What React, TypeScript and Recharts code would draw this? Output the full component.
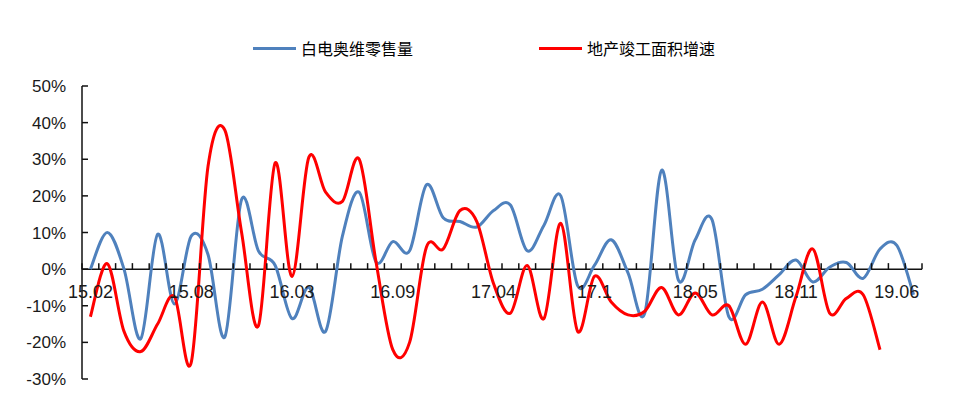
import { LineChart, Line, XAxis, YAxis, ReferenceLine } from "recharts";

// monthly, January merged into February
const categories = [
  "15.02", "15.03", "15.04", "15.05", "15.06", "15.07", "15.08", "15.09", "15.1", "15.11", "15.12",
  "16.02", "16.03", "16.04", "16.05", "16.06", "16.07", "16.08", "16.09", "16.1", "16.11", "16.12",
  "17.02", "17.03", "17.04", "17.05", "17.06", "17.07", "17.08", "17.09", "17.1", "17.11", "17.12",
  "18.02", "18.03", "18.04", "18.05", "18.06", "18.07", "18.08", "18.09", "18.1", "18.11", "18.12",
  "19.02", "19.03", "19.04", "19.05", "19.06", "19.07"
];

// 白电奥维零售量 (%)
const retailVolume = [
  0, 10, 0, -19, 9.5, -9.5, 9, 4, -18.5, 19, 5,
  1, -13.5, -5, -17, 9, 21, 2, 7.5, 5, 23, 14,
  13, 11.5, 16, 17.5, 5, 12, 20, -4.5, 1, 8, -1,
  -12, 27, -3, 8, 13.5, -13, -7, -5.5, -1.5, 2.5, -3.5,
  0.5, 1.8, -2.5, 5.5, 6.5, -7
];

// 地产竣工面积增速 (%)
const completionGrowth = [
  -13, 1.5, -17, -22.5, -15, -7.5, -25.5, 28, 38, 10, -15.5,
  29, -2, 30.5, 21, 18.5, 30, 2, -22, -20, 6, 5.5,
  16, 13, -4, -12, 1, -13.5, 12.5, -17, -2, -9, -12.5,
  -11.5, -5, -12.5, -6.5, -12.5, -10, -20.5, -9, -20.5, -7.5, 5.5,
  -12, -8, -7, -22, null, null
];

const yTicks = [-30, -20, -10, 0, 10, 20, 30, 40, 50];
const labelEvery = 6;

const CHART_W = 952;
const CHART_H = 395;
const MARGIN = { top: 78, right: 38, bottom: 23, left: 14 };
const Y_AXIS_W = 60;
const X_AXIS_H = 1;
const PLOT_W = CHART_W - MARGIN.left - MARGIN.right - Y_AXIS_W;
const PLOT_H = CHART_H - MARGIN.top - MARGIN.bottom - X_AXIS_H;
const Y_MIN = -30;
const Y_MAX = 50;
const ZERO_Y = MARGIN.top + (PLOT_H * Y_MAX) / (Y_MAX - Y_MIN);
const BAND = PLOT_W / categories.length;

const FONT = '"Liberation Sans", Arial, sans-serif';
const AXIS_COLOR = "#111";

const data = categories.map((month, i) => ({
  month,
  retail: retailVolume[i],
  completion: completionGrowth[i]
}));

// Excel-like smoothed line (Catmull-Rom through the points)
const excelSmooth = (context: any) => {
  let pts: number[][] = [];
  return {
    areaStart() {},
    areaEnd() {},
    lineStart() {
      pts = [];
    },
    point(x: number, y: number) {
      pts.push([+x, +y]);
    },
    lineEnd() {
      const n = pts.length;
      if (!n) return;
      context.moveTo(pts[0][0], pts[0][1]);
      for (let i = 0; i < n - 1; i++) {
        const p0 = pts[i - 1] || pts[i];
        const p1 = pts[i];
        const p2 = pts[i + 1];
        const p3 = pts[i + 2] || p2;
        context.bezierCurveTo(
          p1[0] + (p2[0] - p0[0]) / 6,
          p1[1] + (p2[1] - p0[1]) / 6,
          p2[0] - (p3[0] - p1[0]) / 6,
          p2[1] - (p3[1] - p1[1]) / 6,
          p2[0],
          p2[1]
        );
      }
    }
  };
};

const XTick = (props: any) => {
  const { x, payload } = props;
  const index = props.index ?? payload.index;
  const left = x - BAND / 2;
  const isLast = index === categories.length - 1;
  return (
    <g>
      <line x1={left} x2={left} y1={ZERO_Y} y2={ZERO_Y - 6} stroke={AXIS_COLOR} strokeWidth={1.5} />
      {isLast && (
        <line x1={x + BAND / 2} x2={x + BAND / 2} y1={ZERO_Y} y2={ZERO_Y - 6} stroke={AXIS_COLOR} strokeWidth={1.5} />
      )}
      {index % labelEvery === 0 && (
        <text x={x} y={ZERO_Y + 29} textAnchor="middle" fontSize={18} fontFamily={FONT} fill="#1a1a1a">
          {payload.value}
        </text>
      )}
    </g>
  );
};

const YTick = (props: any) => {
  const { x, y, payload } = props;
  return (
    <g>
      <line x1={x + 16} x2={x + 22} y1={y} y2={y} stroke={AXIS_COLOR} strokeWidth={1.5} />
      <text x={x} y={y} dy="0.36em" textAnchor="end" fontSize={17} fontFamily={FONT} fill="#1a1a1a">
        {payload.value}%
      </text>
    </g>
  );
};

const legendItems = [
  { name: "白电奥维零售量", color: "#4F81BD" },
  { name: "地产竣工面积增速", color: "#FF0000" }
];

const App = () => {
  return (
    <div
      style={{
        margin: -8,
        width: 960,
        height: 403,
        paddingLeft: 8,
        paddingTop: 8,
        boxSizing: "border-box",
        background: "#FEF8EC"
      }}
    >
      <div style={{ position: "relative", width: CHART_W, height: CHART_H, background: "#fff" }}>
        <div
          style={{
            position: "absolute",
            top: 30,
            left: 0,
            width: CHART_W,
            height: 20,
            display: "flex",
            justifyContent: "center",
            alignItems: "center",
            gap: 126,
            fontFamily: '"Noto Sans CJK SC", sans-serif',
            fontSize: 16,
            color: "#000"
          }}
        >
          {legendItems.map((item) => (
            <div key={item.name} style={{ display: "flex", alignItems: "center", gap: 5 }}>
              <span style={{ display: "inline-block", width: 43, height: 3, background: item.color }} />
              <span>{item.name}</span>
            </div>
          ))}
        </div>

        <LineChart width={CHART_W} height={CHART_H} data={data} margin={MARGIN}>
          <YAxis
            width={Y_AXIS_W}
            domain={[Y_MIN, Y_MAX]}
            ticks={yTicks}
            interval={0}
            tickSize={0}
            tickMargin={16}
            axisLine={{ stroke: AXIS_COLOR, strokeWidth: 1.5 }}
            tickLine={false}
            tick={<YTick />}
          />
          <XAxis
            dataKey="month"
            scale="band"
            height={X_AXIS_H}
            interval={0}
            tickSize={0}
            axisLine={false}
            tickLine={false}
            tick={<XTick />}
          />
          <ReferenceLine y={0} stroke={AXIS_COLOR} strokeWidth={1.5} />
          <Line
            type={excelSmooth as any}
            dataKey="retail"
            stroke="#4F81BD"
            strokeWidth={3}
            dot={false}
            isAnimationActive={false}
          />
          <Line
            type={excelSmooth as any}
            dataKey="completion"
            stroke="#FF0000"
            strokeWidth={3}
            dot={false}
            isAnimationActive={false}
          />
        </LineChart>
      </div>
    </div>
  );
};

export default App;
